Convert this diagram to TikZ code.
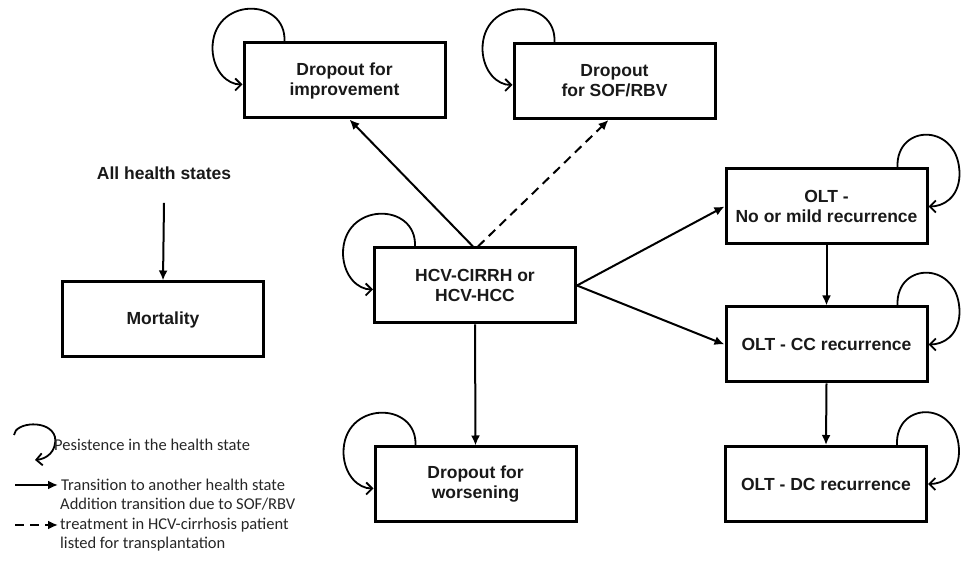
\documentclass[tikz,border=0pt]{standalone}
\usepackage{fontspec}
\setmainfont{Liberation Sans}
\newfontfamily\legendfont{Carlito}
\usetikzlibrary{arrows.meta}

% self-transition loops: one curling into the west side, one into the east side
\newcommand\staywest[1]{%
  \draw[stay] ([xshift=42pt]#1.north west)
    .. controls +(2,45) and +(-1,53) .. ([shift={(-30pt,-8pt)}]#1.north west)
    .. controls +(1,-22) and +(-15,0) .. ([yshift=-4pt]#1.west);}
\newcommand\stayeast[1]{%
  \draw[stay] ([xshift=-31pt]#1.north east)
    .. controls +(-2,45) and +(1,53) .. ([shift={(31pt,-8pt)}]#1.north east)
    .. controls +(-1,-22) and +(15,0) .. (#1.east);}

\begin{document}
\begin{tikzpicture}[x=1pt,y=1pt,
  state/.style={draw, line width=3pt, minimum width=201pt, minimum height=75pt,
    align=center, inner sep=2pt,
    font=\fontsize{17.5}{20}\selectfont\bfseries, text=black!90},
  trans/.style={line width=2pt, -{Latex[length=10pt,width=9pt]}},
  addtrans/.style={trans, dash pattern=on 9pt off 6pt},
  stay/.style={line width=1.8pt, -{Straight Barb[length=6pt,width=12pt]}},
  legtext/.style={font=\legendfont\fontsize{16.5}{19.5}\selectfont, text=black!85,
    anchor=west, align=left, inner sep=0pt}
]
\useasboundingbox (0,0) rectangle (964,564);

% health states
\node[state] (imp)  at (344.5,483.5) {Dropout for\\improvement};
\node[state] (sof)  at (614.5,483)   {Dropout\\for SOF/RBV};
\node[state] (hcv)  at (475,278.5)   {HCV-CIRRH or\\HCV-HCC};
\node[state] (wor)  at (475.5,79.5)  {Dropout for\\worsening};
\node[state] (oltn) at (826.5,357.5) {OLT -\\No or mild recurrence};
\node[state] (oltc) at (826.5,219.5) {OLT - CC recurrence};
\node[state] (oltd) at (826,80)      {OLT - DC recurrence};
\node[state] (mort) at (163,244.5)   {Mortality};
\node[font=\fontsize{17.5}{20}\selectfont\bfseries, text=black!90] (allh) at (164,391) {All health states};

% transitions
\draw[trans] ([xshift=-2pt]hcv.north) -- ([xshift=5pt]imp.south);
\draw[addtrans] ([xshift=3pt]hcv.north) -- ([xshift=-6pt]sof.south);
\draw[trans] (hcv.east) -- (oltn.west);
\draw[trans] (hcv.east) -- (oltc.west);
\draw[trans] (hcv.south) -- (wor.north);
\draw[trans] (oltn.south) -- (oltc.north);
\draw[trans] (oltc.south) -- (oltd.north);
\draw[trans] ([yshift=-20pt]allh.south) -- (mort.north);

% persistence loops
\staywest{imp}
\staywest{sof}
\staywest{hcv}
\staywest{wor}
\stayeast{oltn}
\stayeast{oltc}
\stayeast{oltd}

% legend
\coordinate (k1a) at (14,129);
\coordinate (k1b) at (35,104);
\draw[stay] (k1a) .. controls (15,142) and (50,145) .. (55,127)
  .. controls (57,112) and (46,105) .. (k1b);
\node[legtext] (l1) at (54,119) {Pesistence in the health state};

\coordinate (k2a) at (15,79);
\coordinate (k2b) at (58,79);
\draw[trans] (k2a) -- (k2b);
\node[legtext] (l2) at (61,79) {Transition to another health state};

\coordinate (k3a) at (15,39);
\coordinate (k3b) at (58,39);
\draw[addtrans] (k3a) -- (k3b);
\node[legtext] (l3) at (60,39) {Addition transition due to SOF/RBV\\treatment in HCV-cirrhosis patient\\listed for transplantation};
\end{tikzpicture}
\end{document}
